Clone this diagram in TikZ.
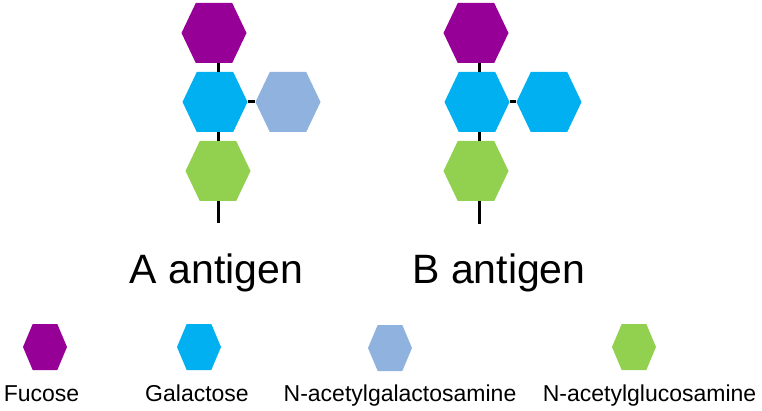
\documentclass[tikz,border=0pt]{standalone}
\usepackage{fontspec}
\setmainfont{Liberation Sans}
\usetikzlibrary{calc}
\definecolor{fuc}{RGB}{150,0,150}
\definecolor{gal}{RGB}{0,176,240}
\definecolor{galnac}{RGB}{143,178,222}
\definecolor{glcnac}{RGB}{146,208,80}
\tikzset{
  hexbig/.style={inner sep=0pt, minimum width=65pt, minimum height=60pt,
    path picture={\fill[#1]
      (path picture bounding box.west)
      -- ($(path picture bounding box.north west)!0.22!(path picture bounding box.north east)$)
      -- ($(path picture bounding box.north west)!0.78!(path picture bounding box.north east)$)
      -- (path picture bounding box.east)
      -- ($(path picture bounding box.south west)!0.78!(path picture bounding box.south east)$)
      -- ($(path picture bounding box.south west)!0.22!(path picture bounding box.south east)$)
      -- cycle;}},
  hexsmall/.style={hexbig=#1, minimum width=44pt, minimum height=46pt},
  link/.style={line width=3pt, black},
  antlabel/.style={anchor=base, inner sep=0pt, font=\fontsize{41}{48}\selectfont},
  leglabel/.style={anchor=base, inner sep=0pt, font=\fontsize{23}{27}\selectfont}
}
\begin{document}
\begin{tikzpicture}[x=1pt,y=1pt]
\useasboundingbox (0,0) rectangle (762,410);
% A antigen
\node[hexbig=fuc] (a1) at (214,377) {};
\node[hexbig=gal] (a2) at (215,308) {};
\node[hexbig=galnac] (a4) at (288,308) {};
\node[hexbig=glcnac] (a3) at (218,239) {};
\coordinate (a5) at (218,187);
\draw[link] (a1.south -| a3) -- (a2.north -| a3);
\draw[link] (a2.south -| a3) -- (a3.north);
\draw[link] (a3.south) -- (a5);
\draw[link] (a2.east) -- (a4.west);
% B antigen
\node[hexbig=fuc] (b1) at (476,377) {};
\node[hexbig=gal] (b2) at (477,308) {};
\node[hexbig=gal] (b4) at (549,308) {};
\node[hexbig=glcnac] (b3) at (476,239) {};
\coordinate (b0) at (479,239);
\coordinate (b5) at (479,186);
\draw[link] (b1.south -| b0) -- (b2.north -| b0);
\draw[link] (b2.south -| b0) -- (b3.north -| b0);
\draw[link] (b3.south -| b0) -- (b5);
\draw[link] (b2.east) -- (b4.west);
% labels
\node[antlabel] (la) at (216.5,127) {A antigen};
\node[antlabel] (lb) at (499,127) {B antigen};
% legend
\node[hexsmall=fuc] (k1) at (45,63) {};
\node[hexsmall=gal] (k2) at (199,63) {};
\node[hexsmall=galnac] (k3) at (390,62) {};
\node[hexsmall=glcnac] (k4) at (634,63) {};
\node[leglabel] (t1) at (41.5,8.5) {Fucose};
\node[leglabel] (t2) at (197,8.5) {Galactose};
\node[leglabel] (t3) at (400,8.5) {N-acetylgalactosamine};
\node[leglabel] (t4) at (649.5,8.5) {N-acetylglucosamine};
\end{tikzpicture}
\end{document}
